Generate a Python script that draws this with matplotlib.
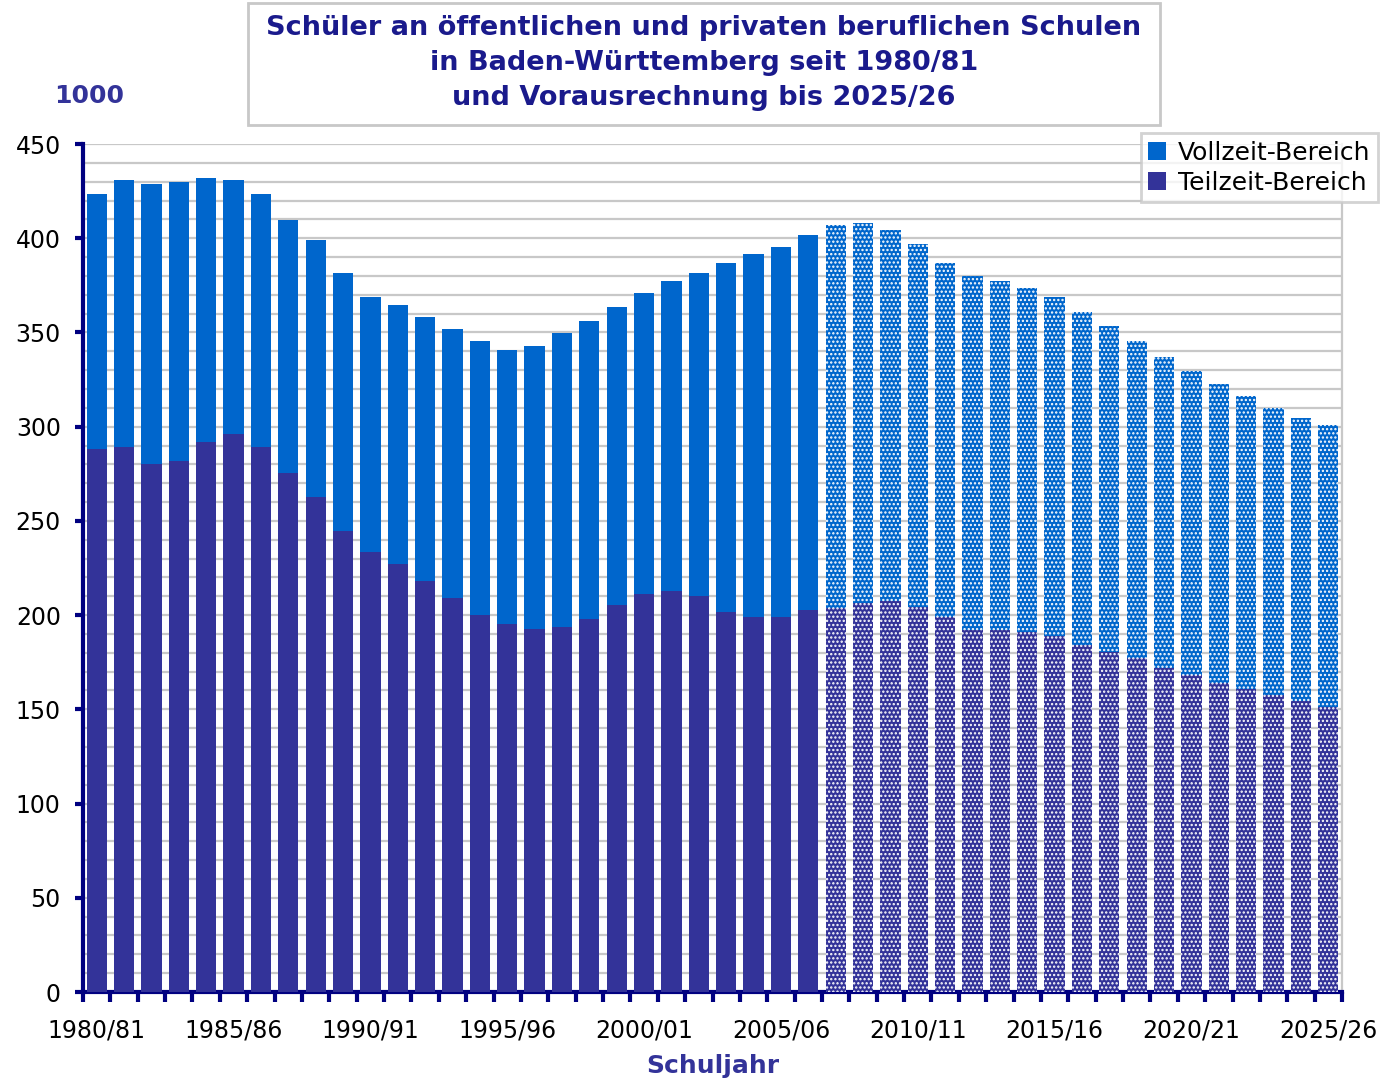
import matplotlib
matplotlib.use("Agg")
import matplotlib.pyplot as plt
from matplotlib.patches import Patch, Rectangle
import numpy as np

plt.rcParams['font.family'] = ['DejaVu Sans']
plt.rcParams['hatch.linewidth'] = 1.1

years = [f"{y}/{(y + 1) % 100:02d}" for y in range(1980, 2026)]
teilzeit = [288, 289, 280, 282, 292, 296, 289, 275.4, 262.7, 244.6,
            233.5, 227, 218, 209, 200, 195.3, 192.6, 193.7, 198, 205.4,
            211.2, 212.8, 210, 201.7, 199, 199, 202.7, 203.8, 206.4, 207.5,
            204.3, 199, 192, 192, 191, 189, 184, 180.4, 177, 172,
            168, 164, 160.8, 157.6, 154.4, 151.2]
vollzeit = [135.5, 142, 148.8, 147.8, 140, 135, 134.5, 134.3, 136.3, 136.9,
            135.3, 137.6, 140.2, 142.8, 145.5, 145.4, 150.2, 156, 158, 158.1,
            159.8, 164.5, 171.5, 185.2, 192.6, 196.4, 199, 203.2, 201.6, 196.9,
            192.7, 188, 188, 185.3, 182.6, 179.8, 176.9, 173, 168.5, 165,
            161.5, 158.6, 155.5, 152.4, 150.2, 149.8]
n_actual = 27  # 1980/81 .. 2006/07 are actual values; rest projection

c_voll = '#0066CC'
c_teil = '#333399'
navy = '#000080'
title_col = '#1a1a8c'

fig = plt.figure(figsize=(13.89, 10.8), dpi=100)
ax = fig.add_axes([83/1389, 1 - 992/1080, (1342 - 83)/1389, (992 - 144)/1080])

x = np.arange(len(years))
w = 0.74
for i in range(len(years)):
    proj = i >= n_actual
    kw = dict(width=w, linewidth=0, zorder=3)
    if proj:
        kw.update(hatch='....', edgecolor='white')
    ax.bar(x[i], teilzeit[i], color=c_teil, **kw)
    ax.bar(x[i], vollzeit[i], bottom=teilzeit[i], color=c_voll, **kw)

ax.set_xlim(-0.5, len(years) - 0.5)
ax.set_ylim(0, 450)
ax.set_yticks(np.arange(0, 451, 50))
ax.set_yticks(np.arange(0, 451, 10), minor=True)
ax.grid(axis='y', which='both', color='#c8c8c8', linewidth=1.6, zorder=0)
ax.set_axisbelow(True)

# x ticks: marks at boundaries, labels at centres every 5th
ax.set_xticks(np.arange(-0.5, len(years) + 0.5, 1.0))
ax.set_xticklabels([])
ax.set_xticks(x[::5], minor=True)
ax.set_xticklabels([years[i] for i in range(0, len(years), 5)], minor=True)
ax.tick_params(axis='x', which='major', length=7, width=3, color=navy, direction='out')
ax.tick_params(axis='x', which='minor', length=0, labelsize=17, pad=19)
ax.tick_params(axis='y', which='major', length=6, width=3, color=navy, labelsize=17, pad=10)
ax.tick_params(axis='y', which='minor', length=0)

for s in ['left', 'bottom']:
    ax.spines[s].set_color(navy)
    ax.spines[s].set_linewidth(3)
ax.spines['right'].set_color('#c8c8c8')
ax.spines['right'].set_linewidth(1.6)
ax.spines['top'].set_visible(False)

ax.set_xlabel('Schuljahr', fontsize=18, fontweight='bold', color='#333399', labelpad=8)

# title box
fig.patches.append(Rectangle((248/1389, 1 - 125/1080), (1160 - 248)/1389, (125 - 3)/1080,
                             transform=fig.transFigure, facecolor='white',
                             edgecolor='#c8c8c8', linewidth=2))
fig.text(704/1389, 1 - 63/1080,
         'Schüler an öffentlichen und privaten beruflichen Schulen\n'
         'in Baden-Württemberg seit 1980/81\nund Vorausrechnung bis 2025/26',
         ha='center', va='center', fontsize=19.5, fontweight='bold', color=title_col,
         linespacing=1.45)
fig.text(89/1389, 1 - 96/1080, '1000', ha='center', va='center', fontsize=18,
         fontweight='bold', color='#333399')

handles = [Patch(facecolor=c_voll, label='Vollzeit-Bereich'),
           Patch(facecolor=c_teil, label='Teilzeit-Bereich')]
leg = fig.legend(handles=handles, loc='upper right',
                 bbox_to_anchor=(1378/1389, 1 - 133/1080), fontsize=18,
                 frameon=True, fancybox=False, edgecolor='#c8c8c8',
                 handlelength=0.7, handleheight=0.7, handletextpad=0.5,
                 borderpad=0.3, labelspacing=0.25, borderaxespad=0)
leg.get_frame().set_linewidth(2)

fig.savefig('out.png', dpi=100)
